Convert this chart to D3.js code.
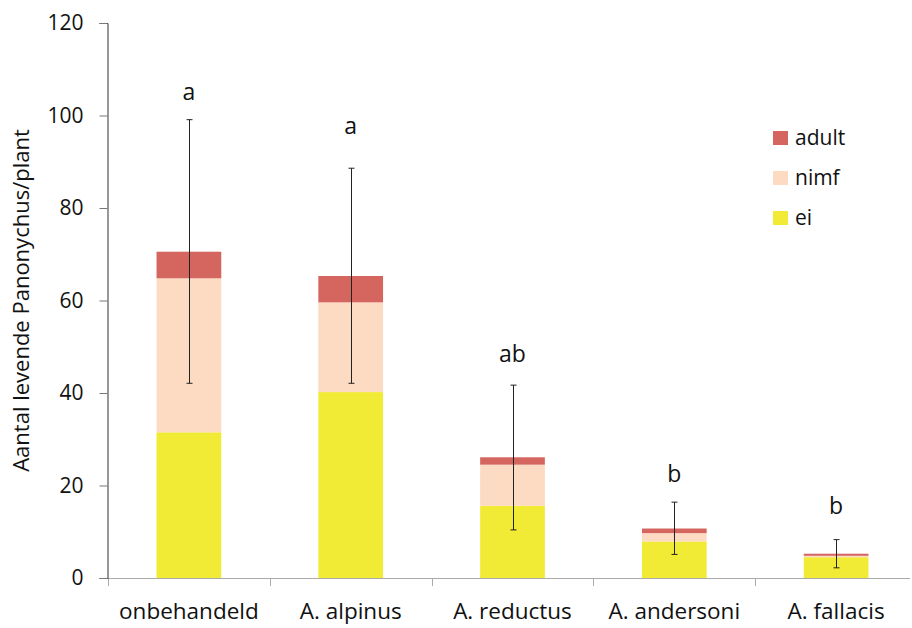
<!DOCTYPE html>
<html>
<head>
<meta charset="utf-8">
<script src="https://cdn.jsdelivr.net/npm/d3@7/dist/d3.min.js"></script>
<style>
  body { margin: 0; background: #fff; }
  svg text { font-family: "Open Sans", "Noto Sans", sans-serif; fill: #111; }
</style>
</head>
<body>
<svg id="chart" width="912" height="628"></svg>
<script>
// categories and stacked values
const categories = ["onbehandeld", "A. alpinus", "A. reductus", "A. andersoni", "A. fallacis"];
const ei    = [31.5, 40.2, 15.6, 7.9, 4.5];
const nimf  = [33.3, 19.4, 8.9, 1.8, 0.3];
const adult = [5.75, 5.7, 1.6, 1.0, 0.45];
const errLow  = [42.1, 42.1, 10.4, 5.1, 2.2];
const errHigh = [99.1, 88.6, 41.7, 16.4, 8.3];
const letters = ["a", "a", "ab", "b", "b"];
const letterPos = [103.4, 96, 46.7, 20.8, 13.8];
const yTicks = [0, 20, 40, 60, 80, 100, 120];

const keys = ["ei", "nimf", "adult"];
const colors = { ei: "#f1eb36", nimf: "#fddbc2", adult: "#d4665f" };

const data = categories.map((c, i) => ({
  name: c, ei: ei[i], nimf: nimf[i], adult: adult[i],
  lo: errLow[i], hi: errHigh[i], letter: letters[i], lpos: letterPos[i]
}));

const svg = d3.select("#chart");

const x = d3.scaleBand()
  .domain(categories)
  .range([108, 917])
  .paddingInner(0.6)
  .paddingOuter(0.3);

const y = d3.scaleLinear()
  .domain([0, 120])
  .range([578, 23]);

// bars
const stack = d3.stack().keys(keys)(data);
svg.append("g")
  .selectAll("g")
  .data(stack)
  .join("g")
  .attr("fill", d => colors[d.key])
  .selectAll("rect")
  .data(d => d)
  .join("rect")
  .attr("x", d => x(d.data.name))
  .attr("width", x.bandwidth())
  .attr("y", d => y(d[1]))
  .attr("height", d => y(d[0]) - y(d[1]));

// x axis with ticks at band edges
const xa = svg.append("g");
xa.append("line")
  .attr("x1", 108).attr("x2", 910)
  .attr("y1", y(0) + 0.5).attr("y2", y(0) + 0.5)
  .attr("stroke", "#aaa").attr("stroke-width", 1.2);
xa.selectAll("line.tk")
  .data(categories)
  .join("line")
  .attr("class", "tk")
  .attr("x1", d => Math.round(x(d) - x.step() * 0.3) + 0.5)
  .attr("x2", d => Math.round(x(d) - x.step() * 0.3) + 0.5)
  .attr("y1", y(0)).attr("y2", y(0) + 8)
  .attr("stroke", "#aaa");
xa.selectAll("text")
  .data(categories)
  .join("text")
  .attr("x", d => x(d) + x.bandwidth() / 2)
  .attr("y", 619)
  .attr("text-anchor", "middle")
  .style("font-size", "22.5px")
  .text(d => d);

// y axis
const yAxis = d3.axisLeft(y).tickValues(yTicks).tickSizeOuter(0).tickSize(8).tickPadding(16);
const ya = svg.append("g")
  .attr("transform", "translate(107.5,0)")
  .call(yAxis);
ya.select(".domain").attr("stroke", "#333");
ya.selectAll(".tick line").attr("stroke", "#777");
ya.selectAll(".tick text")
  .style("font-size", "21px")
  .attr("fill", "#111");

// y title
svg.append("text")
  .attr("transform", `translate(29,${y(60)}) rotate(-90)`)
  .attr("text-anchor", "middle")
  .style("font-size", "22px")
  .text("Aantal levende Panonychus/plant");

// error bars
const eb = svg.append("g").attr("stroke", "#222").attr("stroke-width", 1);
const cx = d => Math.round(x(d.name) + x.bandwidth() / 2) + 0.5;
eb.selectAll("line.v").data(data).join("line").attr("class", "v")
  .attr("x1", cx).attr("x2", cx)
  .attr("y1", d => y(d.lo)).attr("y2", d => y(d.hi));
eb.selectAll("line.t").data(data).join("line").attr("class", "t")
  .attr("x1", d => cx(d) - 3).attr("x2", d => cx(d) + 3)
  .attr("y1", d => y(d.hi)).attr("y2", d => y(d.hi));
eb.selectAll("line.b").data(data).join("line").attr("class", "b")
  .attr("x1", d => cx(d) - 3).attr("x2", d => cx(d) + 3)
  .attr("y1", d => y(d.lo)).attr("y2", d => y(d.lo));

// significance letters
svg.append("g")
  .selectAll("text")
  .data(data)
  .join("text")
  .attr("x", d => x(d.name) + x.bandwidth() / 2)
  .attr("y", d => y(d.lpos))
  .attr("text-anchor", "middle")
  .style("font-size", "23px")
  .text(d => d.letter);

// legend
const legendKeys = ["adult", "nimf", "ei"];
const lg = svg.append("g").attr("transform", "translate(773,131)");
const li = lg.selectAll("g").data(legendKeys).join("g")
  .attr("transform", (d, i) => `translate(0,${i * 40})`);
li.append("rect").attr("width", 15).attr("height", 14).attr("fill", d => colors[d]);
li.append("text").attr("x", 22).attr("y", 14).style("font-size", "21px").text(d => d);
</script>
</body>
</html>
